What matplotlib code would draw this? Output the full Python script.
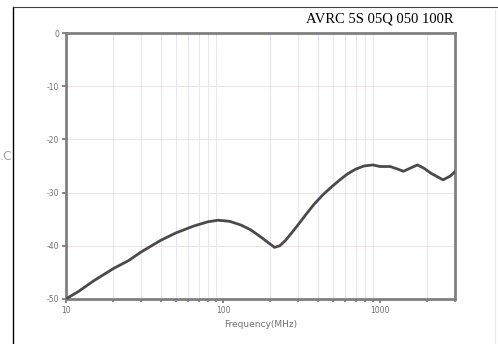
import matplotlib.pyplot as plt
from matplotlib.lines import Line2D
from matplotlib.ticker import FixedLocator, NullFormatter

# insertion loss curve, frequency in MHz, level in dB
freq = [10, 12, 15, 20, 25, 30, 40, 50, 65, 80, 93, 110, 130, 150, 175,
        200, 213, 230, 250, 270, 300, 340, 380, 430, 480, 550, 620, 700,
        790, 900, 1000, 1160, 1300, 1410, 1560, 1730, 1900, 2120, 2520,
        2800, 3000]
level = [-50, -48.6, -46.6, -44.3, -42.8, -41.2, -39.0, -37.6, -36.3, -35.5,
         -35.2, -35.4, -36.1, -37.0, -38.4, -39.7, -40.3, -40.0, -39.0, -37.8,
         -36.1, -34.0, -32.2, -30.5, -29.2, -27.7, -26.5, -25.6, -25.0, -24.8,
         -25.1, -25.1, -25.6, -26.0, -25.4, -24.8, -25.4, -26.4, -27.6, -26.9,
         -26.1]

x_major = [10, 100, 1000]
x_minor = [20, 30, 40, 50, 60, 70, 80, 90,
           200, 300, 400, 500, 600, 700, 800, 900, 2000, 3000]
y_ticks = [0, -10, -20, -30, -40, -50]
title = "AVRC 5S 05Q 050 100R"


def main():
    fig = plt.figure(figsize=(4.98, 3.44), dpi=100)
    ax = fig.add_axes([0.1325, 0.131, 0.781, 0.773])

    ax.set_xscale("log")
    ax.set_xlim(10, 3000)
    ax.set_ylim(-50, 0)

    for f in x_minor:
        ax.axvline(f, color="#e6e6ee", lw=0.7, zorder=0)
    for v in y_ticks[1:-1]:
        ax.axhline(v, color="#f0e2e5", lw=0.7, zorder=0)

    ax.plot(freq, level, color="#4a4a4a", lw=2.0, zorder=3)

    ax.xaxis.set_major_locator(FixedLocator(x_major))
    ax.xaxis.set_minor_locator(FixedLocator(x_minor))
    ax.xaxis.set_minor_formatter(NullFormatter())
    ax.set_xticklabels([str(v) for v in x_major])
    ax.set_yticks(y_ticks)
    ax.set_yticklabels([str(v) for v in y_ticks])

    ax.tick_params(which="both", direction="out", color="#707070",
                   labelcolor="#707070", labelsize=5.5, width=1.2)
    ax.tick_params(which="major", length=3, pad=2)
    ax.tick_params(which="minor", length=2)
    for s in ax.spines.values():
        s.set_color("#808080")
        s.set_linewidth(2)

    ax.set_xlabel("Frequency(MHz)", fontsize=6.5, color="#707070", labelpad=4)

    fig.text(0.911, 0.946, title, ha="right", va="center", fontsize=10.5,
             family="Liberation Serif", color="black")

    # page frame and stray text around the plot
    fig.add_artist(Line2D([0.0255, 0.0255], [0, 0.98], color="black",
                          lw=1.0, transform=fig.transFigure))
    fig.add_artist(Line2D([0.0255, 1.0], [0.98, 0.98], color="#404040",
                          lw=0.8, transform=fig.transFigure))
    fig.add_artist(Line2D([0.994, 0.994], [0, 0.97], color="#f8e8dc",
                          lw=1.0, transform=fig.transFigure))
    fig.text(0.0, 0.545, ".C", fontsize=9, color="#a0a0a0", va="center")

    plt.savefig("out.png", dpi=100)


if __name__ == "__main__":
    main()
